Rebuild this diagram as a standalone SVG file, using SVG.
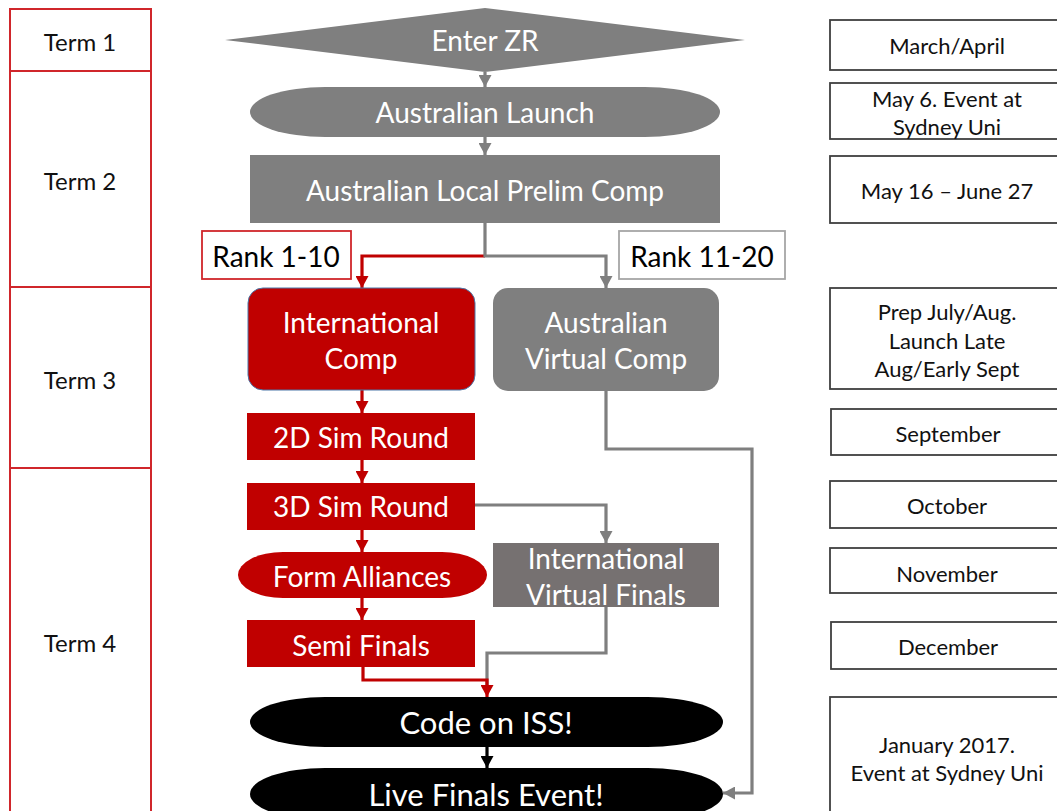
<svg xmlns="http://www.w3.org/2000/svg" width="1057" height="811" viewBox="0 0 1057 811">
<style>
  .term { fill: #ffffff; stroke: #D0262B; stroke-width: 2; }
  .tterm { font-family: Lato, "Liberation Sans", sans-serif; font-size: 24px; fill: #111111; text-anchor: middle; dominant-baseline: central; }
  .date { fill: #ffffff; stroke: #3f3f3f; stroke-width: 1.8; }
  .tdate { font-family: Lato, "Liberation Sans", sans-serif; font-size: 22px; fill: #111111; text-anchor: middle; dominant-baseline: central; }
  .tnode { font-family: Lato, "Liberation Sans", sans-serif; font-size: 28px; fill: #ffffff; text-anchor: middle; dominant-baseline: central; }
  .tbig { font-family: Lato, "Liberation Sans", sans-serif; font-size: 31px; fill: #ffffff; text-anchor: middle; dominant-baseline: central; }
  .trank { font-family: Lato, "Liberation Sans", sans-serif; font-size: 28px; fill: #000000; text-anchor: middle; dominant-baseline: central; }
  .gray { fill: #7F7F7F; }
  .red { fill: #C00000; }
  .blk { fill: #000000; }
  .cg { fill: none; stroke: #7F7F7F; stroke-width: 3.2; }
  .cr { fill: none; stroke: #C00000; stroke-width: 3.2; }
  .ck { fill: none; stroke: #000000; stroke-width: 3.2; }
</style>
<defs>
  <marker id="ag" markerUnits="userSpaceOnUse" markerWidth="13" markerHeight="13" refX="12" refY="6.5" orient="auto">
    <path d="M0,0 L12,6.5 L0,13 z" fill="#7F7F7F"/>
  </marker>
  <marker id="ar" markerUnits="userSpaceOnUse" markerWidth="13" markerHeight="13" refX="12" refY="6.5" orient="auto">
    <path d="M0,0 L12,6.5 L0,13 z" fill="#C00000"/>
  </marker>
  <marker id="ak" markerUnits="userSpaceOnUse" markerWidth="13" markerHeight="13" refX="12" refY="6.5" orient="auto">
    <path d="M0,0 L12,6.5 L0,13 z" fill="#000000"/>
  </marker>
</defs>
<rect width="1057" height="811" fill="#ffffff"/>

<!-- Term column -->
<g id="term1"><rect class="term" x="10" y="9" width="141" height="62"/><text class="tterm" x="80" y="41">Term 1</text></g>
<g id="term2"><rect class="term" x="10" y="71" width="141" height="216"/><text class="tterm" x="80" y="180">Term 2</text></g>
<g id="term3"><rect class="term" x="10" y="287" width="141" height="181"/><text class="tterm" x="80" y="379">Term 3</text></g>
<g id="term4"><rect class="term" x="10" y="468" width="141" height="360"/><text class="tterm" x="80" y="642">Term 4</text></g>

<!-- Connectors -->
<g id="connectors">
  <path class="cg" d="M485,72 V87" marker-end="url(#ag)"/>
  <path class="cg" d="M485,137 V155" marker-end="url(#ag)"/>
  <path class="cr" d="M485,256 H362 V288" marker-end="url(#ar)"/>
  <path class="cg" d="M485,223 V256 H606 V288" marker-end="url(#ag)"/>
  <path class="cr" d="M362,390 V413" marker-end="url(#ar)"/>
  <path class="cr" d="M362,460 V483" marker-end="url(#ar)"/>
  <path class="cr" d="M362,530 V552" marker-end="url(#ar)"/>
  <path class="cr" d="M362,598 V620" marker-end="url(#ar)"/>
  <path class="cg" d="M475,505 H606 V543" marker-end="url(#ag)"/>
  <path class="cg" d="M606,607 V653 H487 V685"/>
  <path class="cr" d="M363,667 V680 H487 V697" marker-end="url(#ar)"/>
  <path class="ck" d="M487,747 V768" marker-end="url(#ak)"/>
  <path class="cg" d="M606,391 V449 H752 V793 H723" marker-end="url(#ag)"/>
</g>

<!-- Flow nodes -->
<g id="enter-zr"><polygon class="gray" points="225,40 485,8 745,40 485,72"/><text class="tnode" x="485" y="40">Enter ZR</text></g>
<g id="au-launch"><rect class="gray" x="250" y="87" width="470" height="50" rx="75" ry="25"/><text class="tnode" x="485" y="112">Australian Launch</text></g>
<g id="prelim"><rect class="gray" x="250" y="155" width="470" height="68"/><text class="tnode" x="485" y="190">Australian Local Prelim Comp</text></g>
<g id="rank1-10"><rect x="202" y="231" width="149" height="48" fill="#ffffff" stroke="#D0262B" stroke-width="1.8"/><text class="trank" x="276" y="256">Rank 1-10</text></g>
<g id="rank11-20"><rect x="619" y="231" width="166" height="48" fill="#ffffff" stroke="#A6A6A6" stroke-width="1.8"/><text class="trank" x="702" y="256">Rank 11-20</text></g>
<g id="intl-comp"><rect class="red" x="248" y="288" width="227" height="102" rx="15" stroke="#4A76A8" stroke-width="1"/><text class="tnode" x="361" y="322">International</text><text class="tnode" x="361" y="358">Comp</text></g>
<g id="au-virtual"><rect class="gray" x="493" y="288" width="226" height="103" rx="15"/><text class="tnode" x="606" y="322">Australian</text><text class="tnode" x="606" y="358">Virtual Comp</text></g>
<g id="sim2d"><rect class="red" x="247" y="413" width="228" height="47"/><text class="tnode" x="361" y="437">2D Sim Round</text></g>
<g id="sim3d"><rect class="red" x="247" y="483" width="228" height="47"/><text class="tnode" x="361" y="506">3D Sim Round</text></g>
<g id="alliances"><rect class="red" x="238" y="552" width="249" height="46" rx="45" ry="23"/><text class="tnode" x="362" y="576">Form Alliances</text></g>
<g id="semi"><rect class="red" x="247" y="620" width="228" height="47"/><text class="tnode" x="361" y="645">Semi Finals</text></g>
<g id="intl-virtual"><rect x="493" y="543" width="226" height="64" fill="#767171"/><text class="tnode" x="606" y="558">International</text><text class="tnode" x="606" y="594">Virtual Finals</text></g>
<g id="code-iss"><rect class="blk" x="250" y="697" width="473" height="50" rx="75" ry="25"/><text class="tbig" x="486" y="722">Code on ISS!</text></g>
<g id="live-finals"><rect class="blk" x="250" y="768" width="473" height="52" rx="75" ry="26"/><text class="tbig" x="486" y="794">Live Finals Event!</text></g>

<!-- Date column -->
<g id="d-march"><rect class="date" x="830" y="20" width="240" height="50"/><text class="tdate" x="947" y="45">March/April</text></g>
<g id="d-may6"><rect class="date" x="830" y="83" width="240" height="56"/><text class="tdate" x="947" y="98">May 6. Event at</text><text class="tdate" x="947" y="126">Sydney Uni</text></g>
<g id="d-may16"><rect class="date" x="830" y="156" width="240" height="67"/><text class="tdate" x="947" y="190">May 16 – June 27</text></g>
<g id="d-prep"><rect class="date" x="830" y="288" width="240" height="101"/><text class="tdate" x="947" y="311">Prep July/Aug.</text><text class="tdate" x="947" y="340">Launch Late</text><text class="tdate" x="947" y="368">Aug/Early Sept</text></g>
<g id="d-sep"><rect class="date" x="831" y="409" width="240" height="46"/><text class="tdate" x="948" y="433">September</text></g>
<g id="d-oct"><rect class="date" x="830" y="481" width="240" height="47"/><text class="tdate" x="947" y="505">October</text></g>
<g id="d-nov"><rect class="date" x="830" y="548" width="240" height="45"/><text class="tdate" x="947" y="573">November</text></g>
<g id="d-dec"><rect class="date" x="831" y="622" width="240" height="47"/><text class="tdate" x="948" y="646">December</text></g>
<g id="d-jan"><rect class="date" x="830" y="697" width="240" height="130"/><text class="tdate" x="947" y="744">January 2017.</text><text class="tdate" x="947" y="772">Event at Sydney Uni</text></g>
</svg>
